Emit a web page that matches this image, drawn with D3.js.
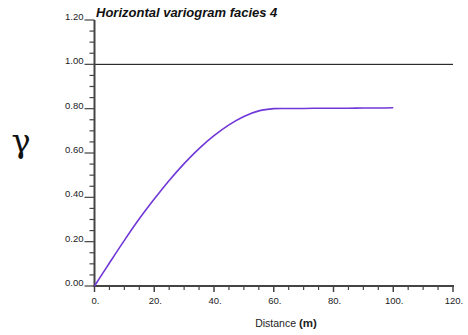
<!DOCTYPE html>
<html>
<head>
<meta charset="utf-8">
<script src="https://cdn.jsdelivr.net/npm/d3@7"></script>
<style>
  html, body { margin: 0; padding: 0; background: #fff; }
  svg { display: block; font-family: "Liberation Sans", Arial, sans-serif; }
</style>
</head>
<body>
<svg id="chart" width="468" height="335"></svg>
<script>
// ---- data ----
const distance = [0, 5, 10, 15, 20, 25, 30, 35, 40, 45, 50, 55, 60, 65, 70, 75, 80, 85, 90, 95, 100];
const gamma    = [0, 0.104, 0.206, 0.303, 0.392, 0.476, 0.552, 0.620, 0.678, 0.727, 0.765, 0.790, 0.800, 0.801, 0.801, 0.802, 0.802, 0.802, 0.803, 0.803, 0.804];
const sillLine = [1.0];
const xTicks = [0, 20, 40, 60, 80, 100, 120];
const xTickLabels = ["0.", "20.", "40.", "60.", "80.", "100.", "120."];
const yTicks = [0, 0.2, 0.4, 0.6, 0.8, 1.0, 1.2];
const yTickLabels = ["0.00", "0.20", "0.40", "0.60", "0.80", "1.00", "1.20"];
const titleText = "Horizontal variogram facies 4";
const xTitle = "Distance";
const xUnit = "(m)";
const yTitle = "γ";

const svg = d3.select("#chart");
const x = d3.scaleLinear().domain([0, 120]).range([94.5, 453]);
const y = d3.scaleLinear().domain([0, 1.2]).range([286, 20]);
const axisColor = "#444";

// minor ticks
const xMinor = d3.range(0, 120.001, 5).filter(v => v % 20 !== 0);
const yMinor = d3.range(0, 1.2001, 0.05).map(v => +v.toFixed(2)).filter(v => Math.abs(v*5 - Math.round(v*5)) > 1e-6);

// sill line at 1.00
svg.append("line")
  .attr("x1", x(0)).attr("x2", x(120))
  .attr("y1", y(sillLine[0])).attr("y2", y(sillLine[0]))
  .attr("stroke", "#000").attr("stroke-width", 1);

// x axis
const gx = svg.append("g").attr("transform", `translate(0,${y(0)})`);
gx.append("line").attr("x1", x(0) - 1).attr("x2", x(120) + 1).attr("stroke", axisColor).attr("stroke-width", 2);
gx.selectAll(".xmaj").data(xTicks).join("line")
  .attr("x1", d => x(d)).attr("x2", d => x(d)).attr("y1", 0).attr("y2", 6)
  .attr("stroke", axisColor).attr("stroke-width", 1.5);
gx.selectAll(".xmin").data(xMinor).join("line")
  .attr("x1", d => x(d)).attr("x2", d => x(d)).attr("y1", 0).attr("y2", 4)
  .attr("stroke", axisColor).attr("stroke-width", 1.2);
gx.selectAll(".xlab").data(xTicks).join("text")
  .attr("x", d => x(d) + 1).attr("y", 18)
  .attr("text-anchor", "middle")
  .attr("font-size", 9.5).attr("fill", "#222")
  .text((d, i) => xTickLabels[i]);

// y axis
const gy = svg.append("g").attr("transform", `translate(${x(0)},0)`);
gy.append("line").attr("y1", y(1.2)).attr("y2", y(0) + 1).attr("stroke", axisColor).attr("stroke-width", 2);
gy.selectAll(".ymaj").data(yTicks).join("line")
  .attr("y1", d => y(d)).attr("y2", d => y(d)).attr("x1", -10).attr("x2", 0)
  .attr("stroke", axisColor).attr("stroke-width", 1.2);
gy.selectAll(".ymin").data(yMinor).join("line")
  .attr("y1", d => y(d)).attr("y2", d => y(d)).attr("x1", -5).attr("x2", 0)
  .attr("stroke", axisColor).attr("stroke-width", 1.2);
gy.selectAll(".ylab").data(yTicks).join("text")
  .attr("x", -11).attr("y", d => y(d))
  .attr("text-anchor", "end")
  .attr("font-size", 9.5).attr("fill", "#222")
  .text((d, i) => yTickLabels[i]);

// curve
const line = d3.line().x((d, i) => x(distance[i])).y(d => y(d)).curve(d3.curveCatmullRom.alpha(0.5));
svg.append("path").datum(gamma)
  .attr("d", line).attr("fill", "none")
  .attr("stroke", "#7038d8").attr("stroke-width", 1.6);

// title
svg.append("text").attr("x", 96).attr("y", 17)
  .attr("font-size", 13).attr("font-weight", "bold").attr("font-style", "italic")
  .attr("fill", "#111").text(titleText);

// x title
const xt = svg.append("text").attr("x", 286).attr("y", 327)
  .attr("text-anchor", "middle").attr("font-size", 10.5).attr("fill", "#222");
xt.append("tspan").text(xTitle + " ");
xt.append("tspan").attr("font-weight", "bold").attr("font-size", 11.5).text(xUnit);

// y title
svg.append("text").attr("x", 21).attr("y", 152)
  .attr("text-anchor", "middle").attr("font-size", 32)
  .attr("font-family", "'DejaVu Serif', 'Liberation Serif', serif")
  .attr("fill", "#111").text(yTitle);
</script>
</body>
</html>
